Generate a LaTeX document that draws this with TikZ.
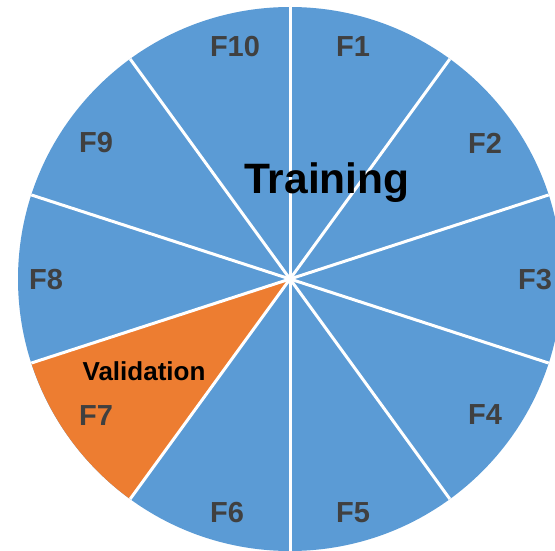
\documentclass[tikz,border=0pt]{standalone}
\usepackage{fontspec}
\setmainfont{Liberation Sans}
\usepackage{tikz}
\usetikzlibrary{calc}
\definecolor{foldblue}{HTML}{5B9BD5}
\definecolor{foldorange}{HTML}{ED7D31}
\definecolor{labelgray}{HTML}{404040}
\tikzset{flabel/.style={text=labelgray,font=\bfseries\fontsize{29}{29}\selectfont}}

\begin{document}
\begin{tikzpicture}[line join=round,x=1pt,y=1pt]
	\useasboundingbox (0,0) rectangle (555,550);
	\clip (0,0) rectangle (555,550);
	\coordinate (O) at (290,271);
	% the ten folds
	\fill[foldblue] (O) circle (272);
	\fill[foldorange] (O) -- ++(198:272) arc (198:234:272) -- cycle;
	\foreach \a in {90,54,...,-234}
	\draw[white,line width=3pt] (O) -- ++(\a:272);
	% labels
	\node[flabel] (f1) at (353,503) {F1};
	\node[flabel] (f2) at (485,407) {F2};
	\node[flabel] (f3) at (535,270) {F3};
	\node[flabel] (f4) at (485,135) {F4};
	\node[flabel] (f5) at (353,37) {F5};
	\node[flabel] (f6) at (227,37) {F6};
	\node[flabel] (f7) at (96,134) {F7};
	\node[flabel] (f8) at (46,270) {F8};
	\node[flabel] (f9) at (96,407) {F9};
	\node[flabel] (f10) at (235,503) {F10};
	\node[font=\bfseries\fontsize{42.5}{42.5}\selectfont] (train) at (327,367) {Training};
	\node[font=\bfseries\fontsize{26}{26}\selectfont] (valid) at (144,179) {Validation};
\end{tikzpicture}
\end{document}
